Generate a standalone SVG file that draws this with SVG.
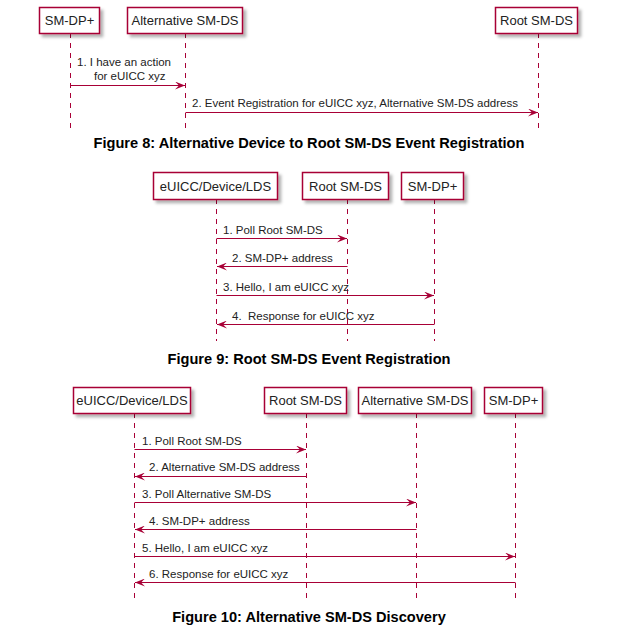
<svg xmlns="http://www.w3.org/2000/svg" width="637" height="633" viewBox="0 0 637 633">
<defs>
<filter id="sh" x="-10%" y="-20%" width="130%" height="160%">
<feDropShadow dx="3" dy="3" stdDeviation="1.5" flood-color="#000" flood-opacity="0.3"/>
</filter>
<marker id="ah" viewBox="0 0 10 8" refX="10" refY="4" markerWidth="10" markerHeight="8" markerUnits="userSpaceOnUse" orient="auto">
<path d="M0,0 L10,4 L0,8 L4,4 Z" fill="#A80036"/>
</marker>
<style>
.box{fill:#fff;stroke:#A80036;stroke-width:1.5;filter:url(#sh)}
.bl{font-family:"Liberation Sans",Arial,sans-serif;font-size:13px;fill:#222;text-anchor:middle}
.life{stroke:#A80036;stroke-width:1;stroke-dasharray:5,5;fill:none}
.msg{stroke:#A80036;stroke-width:1;fill:none;marker-end:url(#ah)}
.mt{font-family:"Liberation Sans",Arial,sans-serif;font-size:11.5px;fill:#222}
.cap{font-family:"Liberation Sans",Arial,sans-serif;font-size:14.6px;font-weight:bold;fill:#000;text-anchor:middle}
</style>
</defs>
<rect width="637" height="633" fill="#fff"/>

<!-- Figure 8 -->
<g id="lifelines8">
<line class="life" x1="70.5" y1="33" x2="70.5" y2="128"/>
<line class="life" x1="185.5" y1="33" x2="185.5" y2="128"/>
<line class="life" x1="538.5" y1="33" x2="538.5" y2="128"/>
</g>
<g id="f8-smdp"><rect class="box" x="39.5" y="7.5" width="60" height="26"/><text class="bl" x="69.5" y="25">SM-DP+</text></g>
<g id="f8-alt"><rect class="box" x="127.5" y="7.5" width="115" height="26"/><text class="bl" x="185" y="25">Alternative SM-DS</text></g>
<g id="f8-root"><rect class="box" x="495.5" y="7.5" width="82" height="26"/><text class="bl" x="536.5" y="25">Root SM-DS</text></g>
<g id="connectors8">
<line class="msg" x1="70.5" y1="85.5" x2="185" y2="85.5"/>
<text class="mt" x="77" y="66">1. I have an action</text>
<text class="mt" x="94" y="80">for eUICC xyz</text>
<line class="msg" x1="185.5" y1="112.5" x2="538" y2="112.5"/>
<text class="mt" x="192" y="107">2. Event Registration for eUICC xyz, Alternative SM-DS address</text>
</g>
<text class="cap" x="309" y="148">Figure 8: Alternative Device to Root SM-DS Event Registration</text>

<!-- Figure 9 -->
<g id="lifelines9">
<line class="life" x1="216.5" y1="199" x2="216.5" y2="341"/>
<line class="life" x1="347.5" y1="199" x2="347.5" y2="341"/>
<line class="life" x1="434.5" y1="199" x2="434.5" y2="341"/>
</g>
<g id="f9-euicc"><rect class="box" x="153.5" y="172.5" width="124" height="27"/><text class="bl" x="215.5" y="190.5">eUICC/Device/LDS</text></g>
<g id="f9-root"><rect class="box" x="302.5" y="172.5" width="86" height="27"/><text class="bl" x="345.5" y="190.5">Root SM-DS</text></g>
<g id="f9-smdp"><rect class="box" x="401.5" y="172.5" width="62" height="27"/><text class="bl" x="432.5" y="190.5">SM-DP+</text></g>
<g id="connectors9">
<line class="msg" x1="216.5" y1="238.5" x2="347" y2="238.5"/>
<text class="mt" x="223" y="234">1. Poll Root SM-DS</text>
<line class="msg" x1="347.5" y1="266.5" x2="217" y2="266.5"/>
<text class="mt" x="232" y="262">2. SM-DP+ address</text>
<line class="msg" x1="216.5" y1="295.5" x2="434" y2="295.5"/>
<text class="mt" x="223" y="290.5">3. Hello, I am eUICC xyz</text>
<line class="msg" x1="434.5" y1="324.5" x2="217" y2="324.5"/>
<text class="mt" x="232" y="319.5" xml:space="preserve">4.  Response for eUICC xyz</text>
</g>
<text class="cap" x="309" y="364">Figure 9: Root SM-DS Event Registration</text>

<!-- Figure 10 -->
<g id="lifelines10">
<line class="life" x1="134.5" y1="413" x2="134.5" y2="601"/>
<line class="life" x1="306.5" y1="413" x2="306.5" y2="601"/>
<line class="life" x1="416.5" y1="413" x2="416.5" y2="601"/>
<line class="life" x1="515.5" y1="413" x2="515.5" y2="601"/>
</g>
<g id="f10-euicc"><rect class="box" x="73.5" y="387.5" width="117" height="26"/><text class="bl" x="132" y="405">eUICC/Device/LDS</text></g>
<g id="f10-root"><rect class="box" x="264.5" y="387.5" width="82" height="26"/><text class="bl" x="305.5" y="405">Root SM-DS</text></g>
<g id="f10-alt"><rect class="box" x="358.5" y="387.5" width="113" height="26"/><text class="bl" x="415" y="405">Alternative SM-DS</text></g>
<g id="f10-smdp"><rect class="box" x="484.5" y="387.5" width="58" height="26"/><text class="bl" x="513.5" y="405">SM-DP+</text></g>
<g id="connectors10">
<line class="msg" x1="134.5" y1="449.5" x2="306" y2="449.5"/>
<text class="mt" x="142" y="444.5">1. Poll Root SM-DS</text>
<line class="msg" x1="306.5" y1="476.5" x2="135" y2="476.5"/>
<text class="mt" x="149" y="471">2. Alternative SM-DS address</text>
<line class="msg" x1="134.5" y1="502.5" x2="416" y2="502.5"/>
<text class="mt" x="142" y="497.5">3. Poll Alternative SM-DS</text>
<line class="msg" x1="416.5" y1="529.5" x2="135" y2="529.5"/>
<text class="mt" x="149" y="524.5">4. SM-DP+ address</text>
<line class="msg" x1="134.5" y1="556.5" x2="515" y2="556.5"/>
<text class="mt" x="142" y="551.5">5. Hello, I am eUICC xyz</text>
<line class="msg" x1="515.5" y1="582.5" x2="135" y2="582.5"/>
<text class="mt" x="149" y="577.5">6. Response for eUICC xyz</text>
</g>
<text class="cap" x="309" y="622">Figure 10: Alternative SM-DS Discovery</text>
</svg>
